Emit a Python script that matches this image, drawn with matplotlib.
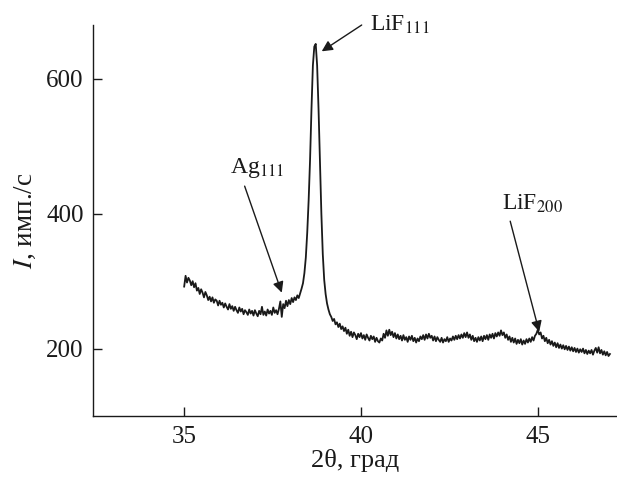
import numpy as np
import matplotlib
matplotlib.use("Agg")
import matplotlib.pyplot as plt

plt.rcParams['font.family'] = ['Liberation Serif', 'DejaVu Serif']
plt.rcParams['mathtext.fontset'] = 'stix'

# XRD scan: 2theta start and step, intensity values (counts/s)
theta_start = 35.0
theta_step = 0.04
intensity = [
    # 35.00 - 38.24
    292, 308, 298, 305, 301, 294, 300, 291, 297, 286,
    290, 281, 288, 283, 276, 284, 279, 272, 277, 270,
    276, 268, 273, 271, 264, 271, 265, 268, 261, 267,
    262, 258, 266, 259, 263, 256, 262, 257, 253, 261,
    255, 259, 251, 257, 254, 250, 258, 252, 256, 249,
    257, 252, 248, 256, 251, 262, 250, 255, 249, 258,
    252, 256, 250, 261, 253, 257, 251, 259, 270, 247,
    266, 260, 271, 263, 272, 266, 275, 269, 276, 272,
    279, 275,
    # 38.28 - 39.00 (LiF 111 peak)
    282, 289, 297, 312, 335, 372, 420, 480, 555, 620,
    648, 652, 620, 555, 475, 400, 340, 302, 281,
    # 39.04 - 39.96
    267, 258, 251, 247, 241, 244, 236, 239, 232, 237,
    229, 233, 226, 231, 222, 228, 219, 225, 217, 224,
    220, 214, 222, 217,
    # 40.00 - 40.96
    223, 215, 220, 213, 221, 216, 212, 219, 214, 218,
    210, 216, 211, 209, 215, 212, 222, 216, 227, 219,
    228, 220, 225, 217, 223,
    # 41.00 - 41.96
    215, 221, 214, 219, 212, 220, 213, 217, 210, 218,
    213, 219, 211, 216, 209, 215, 211, 218, 214, 220,
    213, 221, 215, 222, 216,
    # 42.00 - 42.96
    219, 212, 218, 211, 217, 213, 210, 216, 209, 214,
    211, 217, 210, 215, 212, 218, 213, 219, 214, 220,
    215, 221, 216, 223, 217,
    # 43.00 - 43.96
    224, 216, 221, 213, 219, 211, 216, 210, 217, 212,
    218, 211, 219, 214, 220, 213, 221, 216, 222, 215,
    223, 218, 224, 219, 227,
    # 44.00 - 44.96
    220, 224, 216, 221, 213, 218, 210, 216, 209, 215,
    207, 213, 208, 214, 206, 212, 207, 214, 209, 215,
    210, 217, 212, 219, 222,
    # 45.00 - 45.96
    228, 221, 224, 215, 219, 211, 216, 208, 213, 206,
    211, 204, 209, 202, 208, 201, 206, 200, 205, 199,
    204, 198, 203, 197, 202,
    # 46.00 - 46.96
    196, 201, 195, 200, 194, 199, 195, 200, 193, 198,
    192, 197, 193, 198, 191, 197, 201, 194, 202, 193,
    198, 191, 196, 190, 195,
    # 47.00 - 47.04
    189, 192,
]
two_theta = theta_start + theta_step * np.arange(len(intensity))

x_ticks = [35, 40, 45]
y_ticks = [200, 400, 600]
x_label = "2θ, град"
y_label = "$I$, имп./с"
peak_labels = ["Ag$_{111}$", "LiF$_{111}$", "LiF$_{200}$"]

fig = plt.figure(figsize=(6.17, 4.82), dpi=100)
ax = fig.add_axes([0.1512, 0.1369, 0.8488, 0.8112])
col = '#1a1a1a'
ax.plot(two_theta, intensity, color=col, lw=1.3)

ax.set_xlim(32.43, 47.24)
ax.set_ylim(100, 680)
ax.set_xticks(x_ticks)
ax.set_yticks(y_ticks)
for s in ['top', 'right']:
    ax.spines[s].set_visible(False)
for s in ['left', 'bottom']:
    ax.spines[s].set_linewidth(1.0)
    ax.spines[s].set_color(col)
ax.tick_params(direction='in', length=6.5, width=1.0, color=col,
               labelsize=18, pad=7, labelcolor=col)
ax.set_xlabel(x_label, fontsize=19, color=col, labelpad=1)
ax.set_ylabel(y_label, fontsize=19.5, color=col, labelpad=6)

arrow_kw = dict(arrowstyle='-|>', mutation_scale=16, lw=1.0, color=col,
                shrinkA=0, shrinkB=0)
# Ag111
ax.text(37.06, 461, peak_labels[0], fontsize=17, ha='center', va='baseline', color=col)
ax.annotate('', xy=(37.76, 283), xytext=(36.71, 441), arrowprops=arrow_kw)
# LiF111
ax.text(40.25, 671, peak_labels[1], fontsize=17, ha='left', va='baseline', color=col,
        clip_on=False)
ax.annotate('', xy=(38.89, 641), xytext=(40.02, 680), arrowprops=arrow_kw,
            annotation_clip=False)
# LiF200
ax.text(43.98, 406, peak_labels[2], fontsize=17, ha='left', va='baseline', color=col)
ax.annotate('', xy=(45.04, 225), xytext=(44.22, 389), arrowprops=arrow_kw)

fig.savefig("out.png", dpi=100)
